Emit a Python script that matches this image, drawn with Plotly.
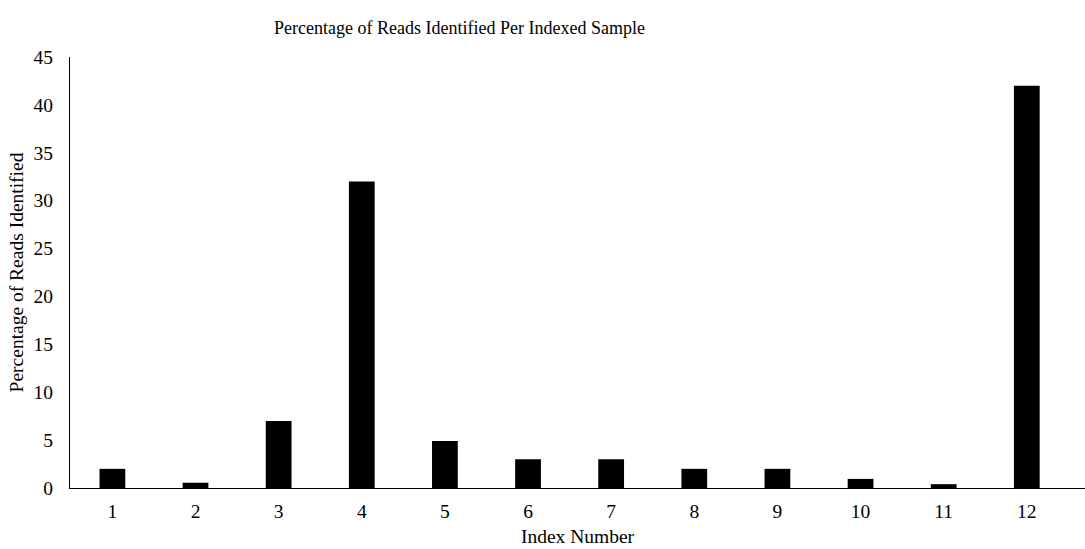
import plotly.graph_objects as go

# Index numbers and percentage of reads identified for each indexed sample
index_numbers = [1, 2, 3, 4, 5, 6, 7, 8, 9, 10, 11, 12]
percent_identified = [2.0, 0.55, 7.0, 32.0, 4.9, 3.0, 3.0, 2.0, 2.0, 0.95, 0.4, 42.0]
y_ticks = [0, 5, 10, 15, 20, 25, 30, 35, 40, 45]

FONT = "Liberation Serif, Times New Roman, serif"

fig = go.Figure(
    go.Bar(
        x=index_numbers,
        y=percent_identified,
        width=0.31,
        marker=dict(color="black", line=dict(width=0)),
    )
)

fig.update_layout(
    width=1085,
    height=549,
    margin=dict(l=70, r=0, t=57, b=61),
    paper_bgcolor="white",
    plot_bgcolor="white",
    showlegend=False,
    font=dict(family=FONT, size=20, color="black"),
    title=dict(
        text="Percentage of Reads Identified Per Indexed Sample",
        x=0.4235,
        xanchor="center",
        xref="container",
        y=0.949,
        yanchor="middle",
        yref="container",
        font=dict(family=FONT, size=18, color="black"),
    ),
    xaxis=dict(
        range=[0.49, 12.7],
        tickmode="array",
        tickvals=index_numbers,
        ticktext=[str(i) for i in index_numbers],
        tickfont=dict(family=FONT, size=19.5),
        showgrid=False,
        zeroline=False,
        showline=True,
        linecolor="black",
        linewidth=1,
        ticks="",
        ticklabelstandoff=6,
        title=dict(text="Index Number", font=dict(family=FONT, size=19.5), standoff=7),
    ),
    yaxis=dict(
        range=[0, 45],
        tickmode="array",
        tickvals=y_ticks,
        tickfont=dict(family=FONT, size=19.5),
        showgrid=False,
        zeroline=False,
        showline=True,
        linecolor="black",
        linewidth=1,
        ticks="",
        ticklabelstandoff=12,
        title=dict(text="Percentage of Reads Identified", font=dict(family=FONT, size=19.5), standoff=4),
    ),
)

fig.write_html("out.html")
